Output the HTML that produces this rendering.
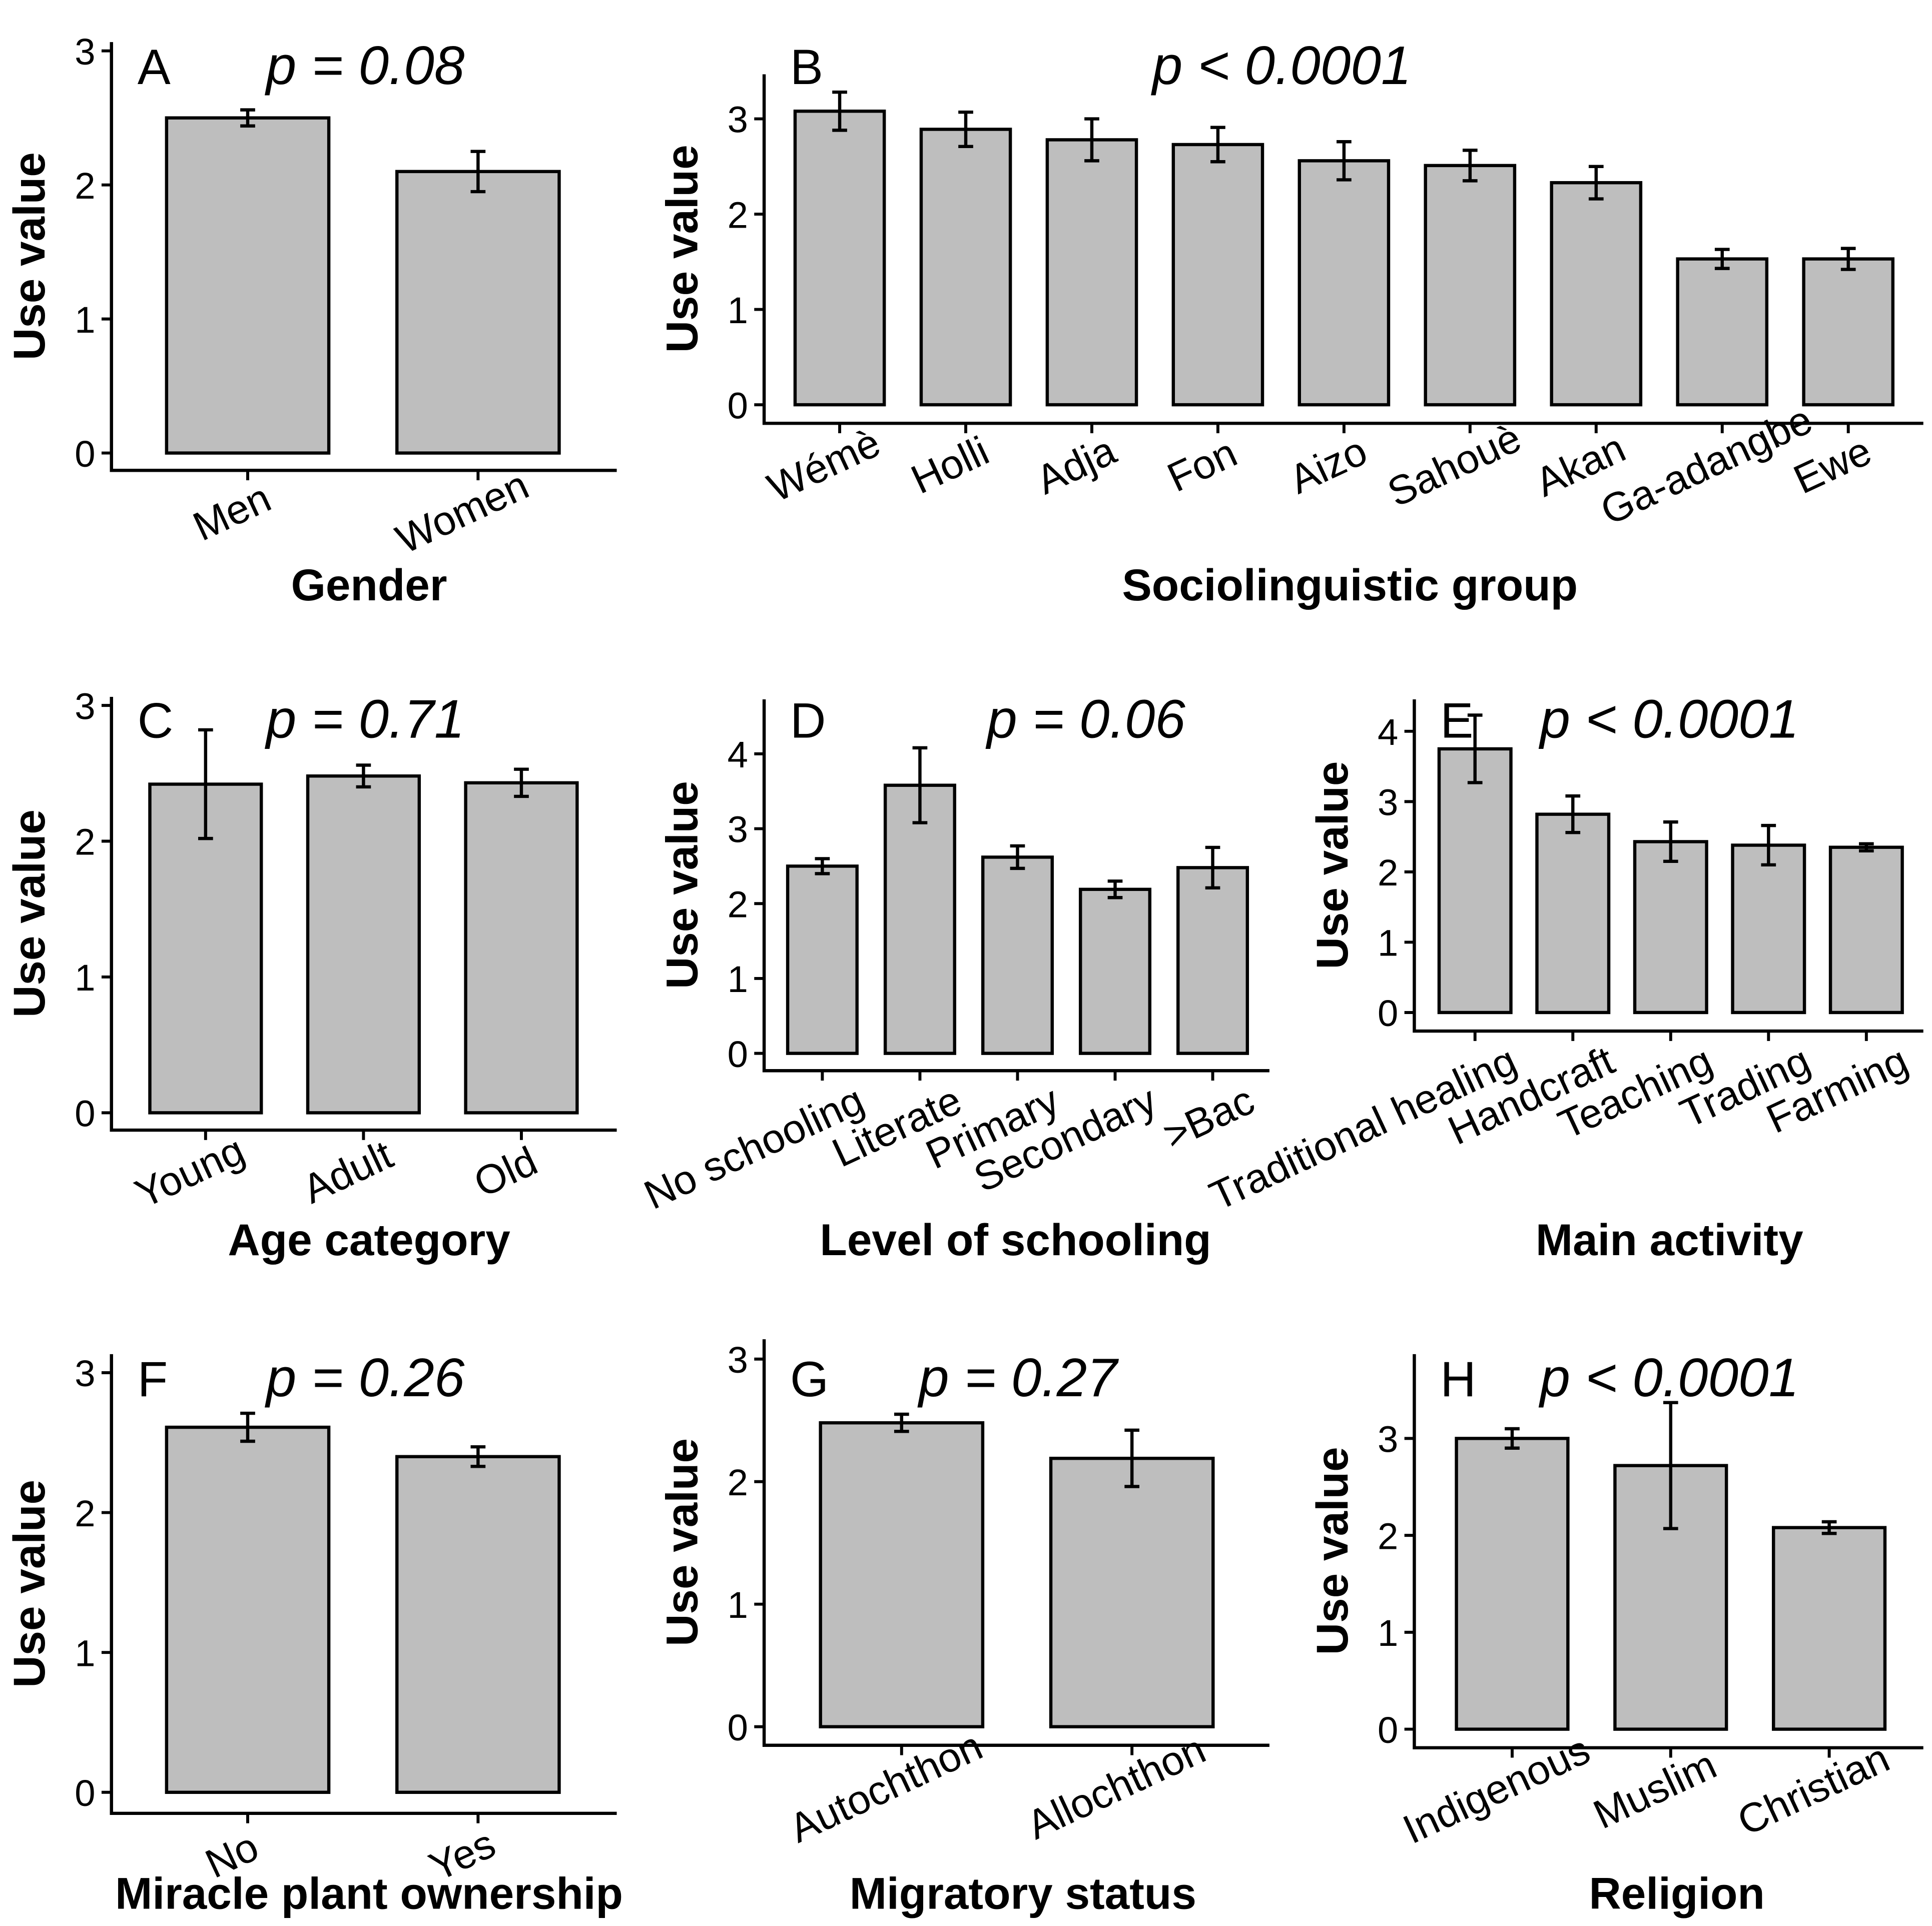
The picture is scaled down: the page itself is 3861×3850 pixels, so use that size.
<!DOCTYPE html>
<html><head><meta charset="utf-8">
<style>
html,body{margin:0;padding:0;background:#fff;}
svg{display:block;}
text{font-family:"Liberation Sans",Arial,sans-serif;fill:#000;}
</style></head>
<body>
<svg id="chart" width="3861" height="3850" viewBox="0 0 1560 1556" preserveAspectRatio="none" xmlns="http://www.w3.org/2000/svg"></svg>
<script>
// ---- data ----
const catsA = ["Men","Women"];
const valsA = [2.5, 2.1];
const errsA = [0.06, 0.15];
const catsB = ["Wémè","Holli","Adja","Fon","Aizo","Sahouè","Akan","Ga-adangbe","Ewe"];
const valsB = [3.08, 2.89, 2.78, 2.73, 2.56, 2.51, 2.33, 1.53, 1.53];
const errsB = [0.2, 0.18, 0.22, 0.18, 0.2, 0.16, 0.17, 0.1, 0.11];
const catsC = ["Young","Adult","Old"];
const valsC = [2.42, 2.48, 2.43];
const errsC = [0.4, 0.08, 0.1];
const catsD = ["No schooling","Literate","Primary","Secondary",">Bac"];
const valsD = [2.5, 3.58, 2.62, 2.19, 2.48];
const errsD = [0.1, 0.5, 0.15, 0.11, 0.27];
const catsE = ["Traditional healing","Handcraft","Teaching","Trading","Farming"];
const valsE = [3.75, 2.82, 2.43, 2.38, 2.35];
const errsE = [0.48, 0.26, 0.28, 0.28, 0.05];
const catsF = ["No","Yes"];
const valsF = [2.61, 2.4];
const errsF = [0.1, 0.07];
const catsG = ["Autochthon","Allochthon"];
const valsG = [2.48, 2.19];
const errsG = [0.07, 0.23];
const catsH = ["Indigenous","Muslim","Christian"];
const valsH = [3.0, 2.72, 2.08];
const errsH = [0.1, 0.65, 0.06];
const ticks3 = [0,1,2,3];
const ticks4 = [0,1,2,3,4];

const NS = "http://www.w3.org/2000/svg";
const svg = document.getElementById('chart');
function mk(tag, attrs, parent){
  const e = document.createElementNS(NS, tag);
  for (const k in attrs) e.setAttribute(k, attrs[k]);
  (parent||svg).appendChild(e);
  return e;
}

function panel(o){
  const g = mk('g', {});
  
  
  const yS = v => o.y0 - v * o.unit;
  const xS = i => o.c0 + i * o.step;
  o.vals.forEach((v, i) => {
    const r = mk('rect', {x: xS(i) - o.bw/2, y: yS(v), width: o.bw, height: yS(0) - yS(v), fill: '#bebebe', stroke: '#000', 'stroke-width': 2.6}, g);
    
    
    const e = o.errs[i], cx = xS(i), cw = 6;
    const eb = mk('path', {d: `M${cx-cw},${yS(v+e)}H${cx+cw}M${cx},${yS(v+e)}V${yS(v-e)}M${cx-cw},${yS(v-e)}H${cx+cw}`, stroke: '#000', 'stroke-width': 2.6, fill: 'none'}, g);
    
    
  });
  const ax = mk('path', {d: `M${o.axX},${o.top}V${o.axY}H${o.xEnd}`, stroke: '#000', 'stroke-width': 2.6, fill: 'none'}, g);
  
  
  o.ticks.forEach(t => {
    mk('line', {x1: o.axX - 8, x2: o.axX, y1: yS(t), y2: yS(t), stroke: '#000', 'stroke-width': 2.4}, g);
    const tl = mk('text', {x: o.axX - 13, y: yS(t) + 11, 'text-anchor': 'end', 'font-size': 30, fill: '#222'}, g);
    tl.textContent = t;
    
    
  });
  o.cats.forEach((c, i) => {
    mk('line', {x1: xS(i), x2: xS(i), y1: o.axY, y2: o.axY + 8, stroke: '#000', 'stroke-width': 2.4}, g);
    let lx, ly;
    if (o.anchor === 'end') { lx = xS(i) + 36; ly = o.axY + 32; }
    else { lx = xS(i) - 8; ly = o.axY + 44; }
    const tl = mk('text', {x: lx, y: ly, 'text-anchor': o.anchor || 'middle', 'font-size': 33, fill: '#222', transform: `rotate(-25 ${lx} ${ly})`}, g);
    tl.textContent = c;
    
    
  });
  const yt = mk('text', {x: 0, y: 0, 'text-anchor': 'middle', 'font-size': 36, 'font-weight': 'bold', transform: `translate(${o.axX - 54},${(o.top + o.axY)/2}) rotate(-90)`}, g);
  yt.textContent = 'Use value';
  
  
  const xt = mk('text', {x: o.titleX, y: o.titleY, 'text-anchor': 'middle', 'font-size': 36, 'font-weight': 'bold'}, g);
  xt.textContent = o.title;
  
  
  const lt = mk('text', {x: o.axX + 21, y: o.labY, 'font-size': 40}, g);
  lt.textContent = o.id;
  
  
  const pt = mk('text', {x: o.pX, y: o.labY, 'text-anchor': 'middle', 'font-size': 44, 'font-style': 'italic'}, g);
  pt.textContent = o.p;
  
  
}

panel({id:'A', cats:catsA, vals:valsA, errs:errsA, ticks:ticks3, axX:90, y0:366, unit:108.3, axY:380, xEnd:498, top:34, c0:200, step:186, bw:131, title:'Gender', titleX:298, titleY:485, labY:68, pX:295, p:'p = 0.08'});
panel({id:'B', cats:catsB, vals:valsB, errs:errsB, ticks:ticks3, axX:617, y0:327, unit:77, axY:342, xEnd:1553, top:60, c0:678, step:101.8, bw:72, title:'Sociolinguistic group', titleX:1090, titleY:485, labY:68, pX:1035, p:'p < 0.0001'});
panel({id:'C', cats:catsC, vals:valsC, errs:errsC, ticks:ticks3, axX:90, y0:899, unit:109.7, axY:913, xEnd:498, top:563, c0:166, step:127.5, bw:90, title:'Age category', titleX:298, titleY:1014, labY:596, pX:295, p:'p = 0.71'});
panel({id:'D', cats:catsD, vals:valsD, errs:errsD, ticks:ticks4, axX:617, y0:851, unit:60.5, axY:865, xEnd:1025, top:565, c0:664, step:78.8, bw:56, title:'Level of schooling', titleX:820, titleY:1014, labY:596, pX:877, p:'p = 0.06', anchor:'end'});
panel({id:'E', cats:catsE, vals:valsE, errs:errsE, ticks:ticks4, axX:1142, y0:818, unit:56.8, axY:833, xEnd:1553, top:565, c0:1191, step:79, bw:58, title:'Main activity', titleX:1348, titleY:1014, labY:596, pX:1348, p:'p < 0.0001', anchor:'end'});
panel({id:'F', cats:catsF, vals:valsF, errs:errsF, ticks:ticks3, axX:90, y0:1448, unit:113, axY:1465, xEnd:498, top:1094, c0:200, step:186, bw:131, title:'Miracle plant ownership', titleX:298, titleY:1542, labY:1128, pX:295, p:'p = 0.26'});
panel({id:'G', cats:catsG, vals:valsG, errs:errsG, ticks:ticks3, axX:617, y0:1395, unit:99, axY:1410, xEnd:1025, top:1082, c0:728, step:186, bw:131, title:'Migratory status', titleX:826, titleY:1542, labY:1128, pX:822, p:'p = 0.27'});
panel({id:'H', cats:catsH, vals:valsH, errs:errsH, ticks:ticks3, axX:1142, y0:1397, unit:78.3, axY:1412, xEnd:1553, top:1094, c0:1221, step:128, bw:90, title:'Religion', titleX:1354, titleY:1542, labY:1128, pX:1348, p:'p < 0.0001'});
</script>
</body></html>
